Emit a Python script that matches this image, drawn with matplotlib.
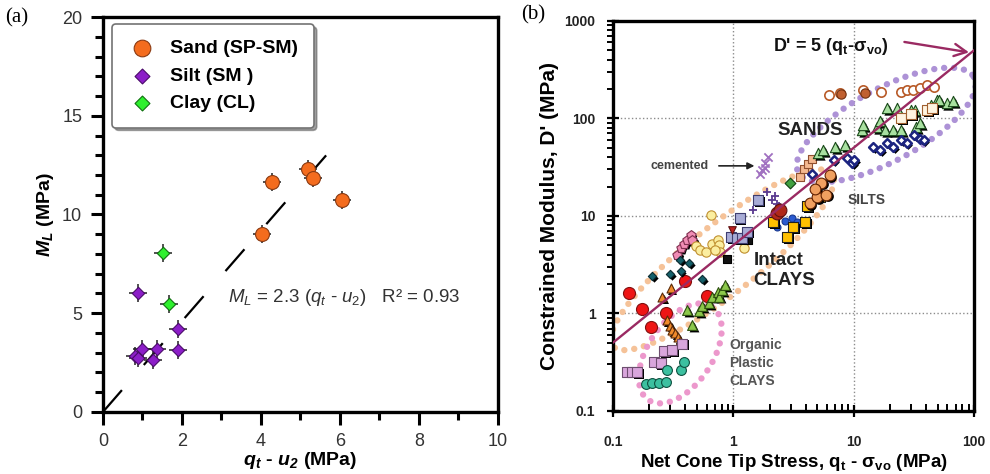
import numpy as np
import matplotlib
matplotlib.use("Agg")
import matplotlib.pyplot as plt
from matplotlib.ticker import MultipleLocator, LogLocator, NullFormatter
from matplotlib.transforms import offset_copy

plt.rcParams['font.family'] = ['Liberation Sans', 'DejaVu Sans']
plt.rcParams['mathtext.fontset'] = 'custom'
plt.rcParams['mathtext.rm'] = 'Liberation Sans'
plt.rcParams['mathtext.it'] = 'Liberation Sans:italic'
plt.rcParams['mathtext.bf'] = 'Liberation Sans:bold'
plt.rcParams['mathtext.bfit'] = 'Liberation Sans:italic:bold'

# ---- panel (a): lab constrained modulus vs net cone resistance ----
sand_qt = [4.02, 4.28, 5.20, 5.32, 6.05]
sand_ml = [9.0, 11.65, 12.3, 11.85, 10.75]
silt_qt = [0.89, 0.81, 0.88, 0.98, 1.27, 1.36, 1.89, 1.91]
silt_ml = [6.0, 2.85, 2.75, 3.2, 2.63, 3.2, 4.22, 3.15]
clay_qt = [1.51, 1.67]
clay_ml = [8.05, 5.47]
ml_coef = 2.3
ml_fit_qt = [0.0, 6.1]

# ---- panel (b): D' vs net cone tip stress, grouped by soil / site ----
red_q = [0.135, 0.176, 0.209, 0.278, 0.40, 0.60]
red_d = [1.61, 1.11, 0.72, 1.00, 2.17, 1.51]
lime_q = [0.415, 0.457, 0.52, 0.55, 0.63, 0.67, 0.74, 0.76, 0.81, 0.86]
lime_d = [1.09, 0.76, 1.05, 1.18, 1.27, 1.49, 1.67, 1.49, 1.74, 1.96]
otri_q = [0.258, 0.302, 0.28, 0.30, 0.31, 0.33, 0.35, 0.36]
otri_d = [1.47, 1.81, 0.85, 0.75, 0.68, 0.63, 0.57, 0.52]
lilac_q = [0.132, 0.145, 0.16, 0.22, 0.249, 0.266, 0.31, 0.377]
lilac_d = [0.253, 0.253, 0.25, 0.32, 0.307, 0.41, 0.42, 0.49]
teal_q = [0.187, 0.212, 0.241, 0.275, 0.283, 0.366, 0.39]
teal_d = [0.19, 0.195, 0.195, 0.20, 0.26, 0.26, 0.32]
pink_q = [0.34, 0.365, 0.39, 0.415, 0.443, 0.457]
pink_d = [4.0, 4.7, 5.2, 5.6, 6.4, 5.6]
yel_q = [0.648, 0.49, 0.53, 0.59, 0.67, 0.74, 0.76, 0.78, 0.71, 1.22]
yel_d = [10.2, 4.9, 4.5, 4.3, 5.2, 5.7, 5.0, 4.3, 4.5, 4.67]
dteal_q = [0.213, 0.30, 0.365, 0.36, 0.43, 0.55]
dteal_d = [2.4, 2.55, 2.7, 3.5, 3.3, 2.25]
blk_q = [0.88, 1.33]
blk_d = [3.6, 5.6]
lav_q = [0.96, 1.08, 1.13, 1.19, 1.30, 1.62]
lav_d = [6.1, 5.9, 9.5, 5.9, 6.9, 14.5]
rtri_q = [0.97]
rtri_d = [7.2]
cplus_q = [1.47, 1.90, 2.09, 2.3, 2.4, 2.2]
cplus_d = [11.5, 17.7, 14.5, 13.4, 12.5, 16.0]
cx_q = [1.68, 1.73, 1.85, 1.85, 1.96]
cx_d = [27, 29.7, 31.3, 34.5, 40]
blue_q = [2.3, 2.7, 3.1, 3.4]
blue_d = [7.7, 8.8, 9.5, 8.6]
gold_q = [2.14, 2.78, 3.16, 3.96, 4.1, 5.2]
gold_d = [8.6, 6.1, 7.7, 8.6, 12.5, 15.8]
dred_q = [2.3, 2.45]
dred_d = [10.6, 11.5]
peach_q = [4.3, 5.0, 5.9, 6.3, 5.4, 4.8]
peach_d = [13.5, 15.5, 16.5, 26, 22, 19]
psq_q = [3.6, 3.9, 4.2, 4.5]
psq_d = [25, 30, 34, 38]
gdia_q = [2.98]
gdia_d = [21.6]
gtri_q = [5.1, 5.6, 7.0, 8.5, 11.7, 12.0, 15.6, 16.6, 18.2, 18.8, 22.7, 21.2,
          32, 33, 49, 59, 67, 44, 24.6, 29.7, 35.6, 51]
gtri_d = [44, 47.6, 51, 53, 76, 86, 82, 93, 76, 127, 127, 76,
          122, 82, 155, 143, 149, 137, 76, 122, 89, 155]
navy_q = [4.5, 6.8, 8.8, 9.7, 10.0, 14.5, 16.6, 18.8, 21.2, 24.6, 27.5, 31.5, 35.6, 38]
navy_d = [27, 37.6, 39, 34.6, 37.6, 51, 47.6, 56, 51, 60, 56, 67, 62, 60]
brown_q = [6.2, 7.7, 12.0, 17.0, 24.6, 27.5, 31.3, 35.6, 40.8, 46.3]
brown_d = [174, 181, 196, 185, 188, 196, 196, 204, 220, 212]
brownf_q = [7.8, 12.3]
brownf_d = [178, 181]
osq_q = [24.6, 30, 40.8, 45]
osq_d = [100, 110, 122, 127]
d_coef = 5
d_fit_q = [0.1, 100]


def dots(ax, q, d, marker, face, edge, size, shadow=False, lw=0.8, z=3):
    if shadow:
        tr = offset_copy(ax.transData, fig=ax.figure, x=1.8, y=-1.8, units='dots')
        ax.scatter(q, d, s=size, marker=marker, c='k', linewidths=0,
                   transform=tr, zorder=z)
    ax.scatter(q, d, s=size, marker=marker, c=face, edgecolors=edge,
               linewidths=lw, zorder=z)


def dotted_ellipse(ax, center, a, b, ang, color):
    # ellipse defined in log10 space, drawn as round dots
    t = np.linspace(0, 2 * np.pi, 300)
    th = np.radians(ang)
    lx = center[0] + a * np.cos(t) * np.cos(th) - b * np.sin(t) * np.sin(th)
    ly = center[1] + a * np.cos(t) * np.sin(th) + b * np.sin(t) * np.cos(th)
    ax.plot(10 ** lx, 10 ** ly, color=color, lw=4.6, ls=(0, (0.01, 1.55)),
            dash_capstyle='round', zorder=2)


fig = plt.figure(figsize=(9.9, 4.74), dpi=100)

# ------------------------------------------------------------------ (a)
ax = fig.add_axes([0.104, 0.131, 0.399, 0.833])
ax.set_xlim(0, 10)
ax.set_ylim(0, 20)

xx = np.array(ml_fit_qt)
ax.plot(xx, ml_coef * xx, color='k', lw=1.6, ls=(0, (13, 15)), zorder=2)

cross = dict(marker='+', ms=13, mew=1.1, color='#222222', ls='none', zorder=3)
for q, m in ((sand_qt, sand_ml), (silt_qt, silt_ml), (clay_qt, clay_ml)):
    ax.plot(q, m, **cross)
ax.scatter(sand_qt, sand_ml, s=100, marker='o', c='#f46c1e', edgecolors='#8a3a12',
           linewidths=0.8, zorder=4, label='Sand (SP-SM)')
ax.scatter(silt_qt, silt_ml, s=40, marker='D', c='#8c1ec8', edgecolors='#4a0a6a',
           linewidths=0.8, zorder=4, label='Silt (SM )')
ax.scatter(clay_qt, clay_ml, s=40, marker='D', c='#2ef02e', edgecolors='#107010',
           linewidths=0.8, zorder=4, label='Clay (CL)')

ax.text(3.16, 5.8, r'$M_L$ = 2.3 ($q_t$ - $u_2$)   R² = 0.93', fontsize=13.5,
        color='#333333', ha='left', va='center')

leg = ax.legend(loc='upper left', bbox_to_anchor=(0.023, 0.982), borderaxespad=0,
                prop={'weight': 'bold', 'size': 14}, fancybox=True, shadow=True,
                borderpad=0.8, labelspacing=0.5, handlelength=1.5,
                handletextpad=0.7, markerscale=1.2, edgecolor='0.45',
                framealpha=1)
leg.get_frame().set_linewidth(1.2)

ax.xaxis.set_major_locator(MultipleLocator(2))
ax.xaxis.set_minor_locator(MultipleLocator(1))
ax.yaxis.set_major_locator(MultipleLocator(5))
ax.yaxis.set_minor_locator(MultipleLocator(1))
ax.tick_params(which='major', direction='out', length=9, width=2.2, pad=6,
               labelsize=13, labelcolor='#333333', top=False, right=False)
ax.tick_params(which='minor', direction='out', length=6, width=2.2,
               top=False, right=False)
ax.tick_params(axis='x', which='major', pad=6)
for s in ax.spines.values():
    s.set_linewidth(2.4)
ax.set_xlabel(r'$\mathbfit{q_t}$ - $\mathbfit{u_2}$ (MPa)', fontsize=14,
              fontweight='bold', labelpad=0)
ax.set_ylabel(r'$\mathbfit{M_L}$ (MPa)', fontsize=14, fontweight='bold', labelpad=4)

fig.text(0.005, 0.963, '(a)', family='Liberation Serif', fontsize=15, va='center')

# ------------------------------------------------------------------ (b)
bx = fig.add_axes([0.619, 0.133, 0.365, 0.823])
bx.set_xscale('log')
bx.set_yscale('log')
bx.set_xlim(0.1, 100)
bx.set_ylim(0.1, 1000)
bx.grid(True, which='major', ls=':', color='0.55', lw=1.0, zorder=0)

dotted_ellipse(bx, (-0.09, 0.55), 1.27, 0.32, 45, '#f5c298')
dotted_ellipse(bx, (1.27, 1.933), 0.88, 0.35, 35.7, '#ad92d6')
dotted_ellipse(bx, (-0.44, -0.41), 0.55, 0.28, 65, '#ec98cc')

dots(bx, red_q, red_d, 'o', '#ee1515', '#801010', 75)
dots(bx, lime_q, lime_d, '^', '#8cc84b', '#2e5010', 50, shadow=True)
dots(bx, otri_q, otri_d, '^', '#f08a2c', '#5a2a08', 42, shadow=True)
dots(bx, lilac_q, lilac_d, 's', '#d9a6dc', '#6e4e70', 42, shadow=True)
dots(bx, teal_q, teal_d, 'o', '#3cc0a0', '#0e5040', 50)
dots(bx, pink_q, pink_d, 'p', '#f08cb4', '#803050', 50, shadow=True)
dots(bx, yel_q, yel_d, 'o', '#fbeea0', '#c09030', 45)
dots(bx, dteal_q, dteal_d, 'D', '#15606a', '#0a2a30', 18, shadow=True)
dots(bx, blk_q, blk_d, 's', '#111111', '#000000', 30)
dots(bx, lav_q, lav_d, 's', '#a8acd6', '#3e3e70', 45, shadow=True)
dots(bx, rtri_q, rtri_d, 'v', '#c02020', '#601010', 30)
dots(bx, cplus_q, cplus_d, '+', '#5a3a90', '#5a3a90', 40, lw=1.3)
dots(bx, cx_q, cx_d, 'x', '#a070c0', '#a070c0', 35, lw=1.3)
dots(bx, blue_q, blue_d, 'o', '#2a5ad0', '#1a3a90', 25)
dots(bx, gold_q, gold_d, 's', '#ffc000', '#202020', 55, shadow=True)
dots(bx, dred_q, dred_d, 'o', '#b02818', '#601010', 85)
dots(bx, peach_q, peach_d, 'o', '#f0a060', '#602000', 60, shadow=True)
dots(bx, psq_q, psq_d, 's', '#f4b890', '#905030', 35)
dots(bx, gdia_q, gdia_d, 'D', '#40a040', '#104010', 30)
dots(bx, gtri_q, gtri_d, '^', '#a8e0a0', '#1a4a1a', 55, shadow=True)
dots(bx, navy_q, navy_d, 'D', '#ffffff', '#1c2480', 20, shadow=True, lw=1.8)
dots(bx, brown_q, brown_d, 'o', '#ffffff', '#b85a28', 45, lw=1.2)
dots(bx, brownf_q, brownf_d, 'o', '#c06030', '#703010', 45)
dots(bx, osq_q, osq_d, 's', '#fff4e0', '#a06030', 45, shadow=True)

qq = np.array(d_fit_q)
bx.plot(qq, d_coef * qq, color='#9a2a62', lw=1.7, zorder=5)
bx.annotate('', xy=(95.6, 470), xytext=(25, 614),
            arrowprops=dict(arrowstyle='->', color='#9a2a62', lw=1.7,
                            mutation_scale=22))
bx.text(6.5, 541, r"D' = 5 ($\mathbf{q_t}$-$\mathbf{σ_{vo}}$)", fontsize=13,
        fontweight='bold', ha='center', va='center', color='#111111')

bx.text(4.36, 76, 'SANDS', fontsize=13.5, fontweight='bold', ha='center',
        va='center', color='#222222', zorder=6)
bx.text(12.9, 14.6, 'SILTS', fontsize=10, fontweight='bold', ha='center',
        va='center', color='#444444', zorder=6)
bx.text(1.47, 2.76, 'Intact\nCLAYS', fontsize=13.5, fontweight='bold', ha='left',
        va='center', linespacing=1.25, color='#222222', zorder=6)
bx.text(0.93, 0.31, 'Organic\nPlastic\nCLAYS', fontsize=10, fontweight='bold',
        ha='left', va='center', linespacing=1.4, color='#555555', zorder=6)
bx.text(0.205, 32.6, 'cemented', fontsize=9, fontweight='bold', ha='left',
        va='center', color='#444444', zorder=6)
bx.annotate('', xy=(1.58, 32.6), xytext=(0.72, 32.6),
            arrowprops=dict(arrowstyle='-|>', color='#222222', lw=1.2,
                            mutation_scale=10))

bx.set_xticks([0.1, 1, 10, 100], labels=['0.1', '1', '10', '100'],
              fontsize=10, fontweight='bold')
bx.set_yticks([0.1, 1, 10, 100, 1000], labels=['0.1', '1', '10', '100', '1000'],
              fontsize=10, fontweight='bold')
bx.xaxis.set_minor_locator(LogLocator(base=10, subs=np.arange(2, 10), numticks=20))
bx.yaxis.set_minor_locator(LogLocator(base=10, subs=np.arange(2, 10), numticks=20))
bx.xaxis.set_minor_formatter(NullFormatter())
bx.yaxis.set_minor_formatter(NullFormatter())
bx.tick_params(which='major', direction='inout', length=9, width=1.6,
               top=False, right=False, labelcolor='#222222')
bx.tick_params(axis='x', which='major', pad=13)
bx.tick_params(axis='y', which='major', pad=8)
bx.tick_params(axis='x', which='minor', direction='in', length=5, width=1.4, top=False)
bx.tick_params(axis='y', which='minor', direction='out', length=4, width=1.4, right=False)
for s in bx.spines.values():
    s.set_linewidth(2.4)
bx.set_xlabel(r'Net Cone Tip Stress, $\mathbf{q_t}$ - $\mathbf{σ_{vo}}$ (MPa)',
              fontsize=13.5, fontweight='bold', labelpad=2)
bx.set_ylabel("Constrained Modulus, D' (MPa)", fontsize=15, fontweight='bold',
              labelpad=4)

fig.text(0.526, 0.968, '(b)', family='Liberation Serif', fontsize=15, va='center')

fig.savefig('out.png', dpi=100)
